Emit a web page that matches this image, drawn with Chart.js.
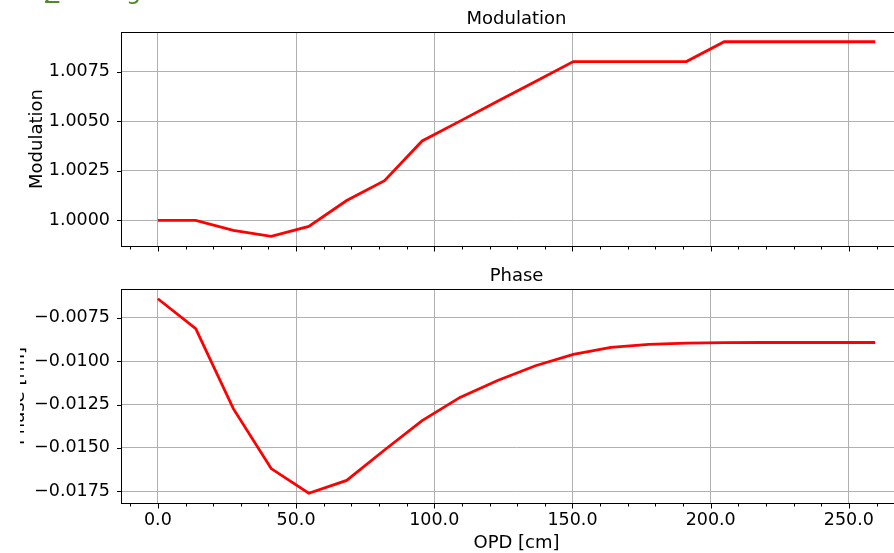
<!DOCTYPE html>
<html><head><meta charset="utf-8">
<script src="https://cdn.jsdelivr.net/npm/chart.js@4/dist/chart.umd.min.js"></script>
<style>
html,body{margin:0;padding:0;background:#fff;overflow:hidden;width:894px;height:553px;}
canvas{position:absolute;left:0;}
#c1{top:0}
#c2{top:262px}
</style></head><body>
<canvas id="c1" width="960" height="262"></canvas>
<canvas id="c2" width="960" height="291"></canvas>
<script>
const opd = [0, 13.7, 27.3, 41.0, 54.6, 68.3, 82.0, 95.6, 109.3, 122.9, 136.6, 150.3, 163.9, 177.6, 191.2, 204.9, 218.6, 232.2, 245.9, 259.5];
const modulation = [1.0000, 1.0000, 0.9995, 0.9992, 0.9997, 1.0010, 1.0020, 1.0040, 1.0050, 1.0060, 1.0070, 1.0080, 1.0080, 1.0080, 1.0080, 1.0090, 1.0090, 1.0090, 1.0090, 1.0090];
const phase = [-0.00641, -0.00813, -0.01274, -0.01619, -0.01761, -0.01687, -0.01512, -0.01343, -0.01209, -0.01112, -0.01027, -0.00961, -0.00921, -0.00904, -0.00897, -0.00894, -0.00893, -0.00893, -0.00893, -0.00893];
const xTicks = [0, 50, 100, 150, 200, 250];
const xMinorTicks = [-10, 10, 20, 30, 40, 60, 70, 80, 90, 110, 120, 130, 140, 160, 170, 180, 190, 210, 220, 230, 240, 260, 270];
const modTicks = [1.0, 1.0025, 1.005, 1.0075];
const phaseTicks = [-0.0175, -0.015, -0.0125, -0.01, -0.0075];
const modTitle = 'Modulation';
const phaseTitle = 'Phase';
const modYLabel = 'Modulation';
const phaseYLabel = 'Phase [rm]';
const xLabel = 'OPD [cm]';

const FONT = '"DejaVu Sans", sans-serif';
function pad(arr){const mn=Math.min(...arr), mx=Math.max(...arr), d=mx-mn; return [mn-0.05*d, mx+0.05*d];}

function framePlugin(o){
  return {id:'frame', afterDraw(chart){
    const ctx = chart.ctx, a = chart.chartArea, x = chart.scales.x, y = chart.scales.y;
    ctx.save();
    ctx.strokeStyle = '#000'; ctx.lineWidth = 1;
    ctx.strokeRect(Math.round(a.left)-0.5, Math.round(a.top)+0.5, Math.round(a.right-a.left)+1, Math.round(a.bottom-a.top));
    ctx.beginPath();
    const b = Math.round(a.bottom)+0.5;
    xTicks.forEach(v=>{const p=Math.round(x.getPixelForValue(v))+0.5; ctx.moveTo(p,b); ctx.lineTo(p,b+5);});
    xMinorTicks.forEach(v=>{const p=Math.round(x.getPixelForValue(v))+0.5; ctx.moveTo(p,b); ctx.lineTo(p,b+3);});
    o.yTicks.forEach(v=>{const p=Math.round(y.getPixelForValue(v))+0.5; ctx.moveTo(a.left,p); ctx.lineTo(a.left-5,p);});
    ctx.stroke();
    ctx.fillStyle = '#000';
    ctx.font = '18px ' + FONT;
    ctx.textAlign = 'center'; ctx.textBaseline = 'alphabetic';
    const cx = (a.left + a.right)/2;
    ctx.fillText(o.title, cx, a.top - 8);
    if (o.xLabel) ctx.fillText(o.xLabel, cx, a.bottom + 45);
    ctx.save();
    ctx.beginPath(); ctx.rect(20, 0, 2000, 2000); ctx.clip();
    ctx.translate(o.yLabelX, (a.top + a.bottom)/2);
    ctx.rotate(-Math.PI/2);
    ctx.fillText(o.yLabel, 0, 0);
    ctx.restore();
    if (o.heading) {
      ctx.fillStyle = '#4e8a2c';
      ctx.font = '24px ' + FONT;
      ctx.textAlign = 'left';
      ctx.fillText('Z', 44, 3);
      ctx.fillText('g', 126, -1);
    }
    ctx.restore();
  }};
}

function makeChart(id, yData, o){
  const [ymin, ymax] = pad(yData);
  const [xmin, xmax] = pad(opd);
  return new Chart(document.getElementById(id), {
    type: 'line',
    data: {datasets: [{data: opd.map((v,i)=>({x:v, y:yData[i]})), borderColor:'#ff0000', borderWidth:2.8, pointRadius:0, tension:0, fill:false}]},
    options: {
      responsive:false, animation:false, devicePixelRatio:1,
      layout: {padding: {top:o.top, right:49, left:0, bottom:0}},
      plugins: {legend:{display:false}, tooltip:{enabled:false}, title:{display:false}},
      scales: {
        x: {type:'linear', min:xmin, max:xmax,
            afterBuildTicks: s=>{s.ticks = xTicks.map(v=>({value:v}));},
            afterFit: s=>{s.height = o.xh; s.paddingLeft = 0; s.paddingRight = 0;},
            grid: {color:'#b0b0b0', lineWidth:1, drawTicks:false},
            border: {display:false},
            ticks: {display:o.xLabels, padding:7, maxRotation:0, autoSkip:false, color:'#000', font:{family:FONT, size:17.5}, callback:v=>Number(v).toFixed(1)}
        },
        y: {type:'linear', min:ymin, max:ymax,
            afterBuildTicks: s=>{s.ticks = o.yTicks.map(v=>({value:v}));},
            afterFit: s=>{s.width = 122; s.paddingTop = 0; s.paddingBottom = 0;},
            grid: {color:'#b0b0b0', lineWidth:1, drawTicks:false},
            border: {display:false},
            ticks: {padding:12, color:'#000', font:{family:FONT, size:17.5}, callback:v=>(v<0?'\u2212':'')+Math.abs(v).toFixed(4)}
        }
      }
    },
    plugins: [framePlugin(o)]
  });
}

makeChart('c1', modulation, {top:32, xh:16, xLabels:false, yTicks:modTicks, title:modTitle, yLabel:modYLabel, yLabelX:42, heading:true});
makeChart('c2', phase, {top:27, xh:50, xLabels:true, yTicks:phaseTicks, title:phaseTitle, yLabel:phaseYLabel, yLabelX:24, xLabel:xLabel});
</script>
</body></html>
